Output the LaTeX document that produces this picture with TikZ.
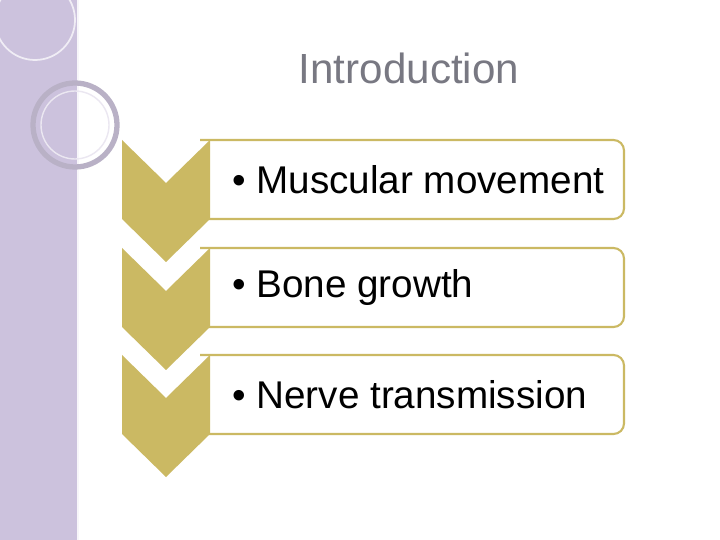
\documentclass[tikz,border=0pt]{standalone}
\usepackage{fontspec}
\setmainfont{Liberation Sans}
\usetikzlibrary{positioning}
\definecolor{gold}{RGB}{203,185,99}
\definecolor{lilac}{RGB}{204,194,221}
\definecolor{titlegray}{RGB}{120,120,130}
\tikzset{
  chev/.style={fill=gold, draw=none},
  item/.style={draw=gold, line width=1.2pt, fill=white, rounded corners=6pt},
  itemtext/.style={anchor=west, font=\fontsize{22}{26}\selectfont, text=black}
}
\begin{document}
\begin{tikzpicture}[x=0.02cm, y=-0.02cm]
	\useasboundingbox (0,0) rectangle (720,540);
	\fill[white] (0,0) rectangle (720,540);
	% side strip
	\fill[lilac] (0,0) rectangle (78,540);
	\draw[white!85!lilac, line width=0.8pt] (78,0) -- (78,540);
	\draw[white!70!lilac, line width=1pt] (35,20) circle (40);
	\draw[gray!25!lilac, line width=3pt] (75,125) circle (42);
	\draw[white!60!lilac, line width=0.8pt] (75,125) circle (34);
	% title
	\node[text=titlegray, font=\fontsize{24}{28}\selectfont] (title) at (409,68) {Introduction};
	% rows
	\foreach \t/\name/\txt in {140/musc/Muscular movement, 248/bone/Bone growth, 355/nerve/Nerve transmission} {
		\draw[item] (200,\t) -- (624,\t) -- (624,\t+79) -- (200,\t+79);
		\fill[chev] (122,\t) -- (166,\t+43) -- (210,\t) -- (210,\t+79) -- (166,\t+122) -- (122,\t+79) -- cycle;
		\node[itemtext] (\name) at (226,\t+40) {• \txt};
	}
\end{tikzpicture}
\end{document}
